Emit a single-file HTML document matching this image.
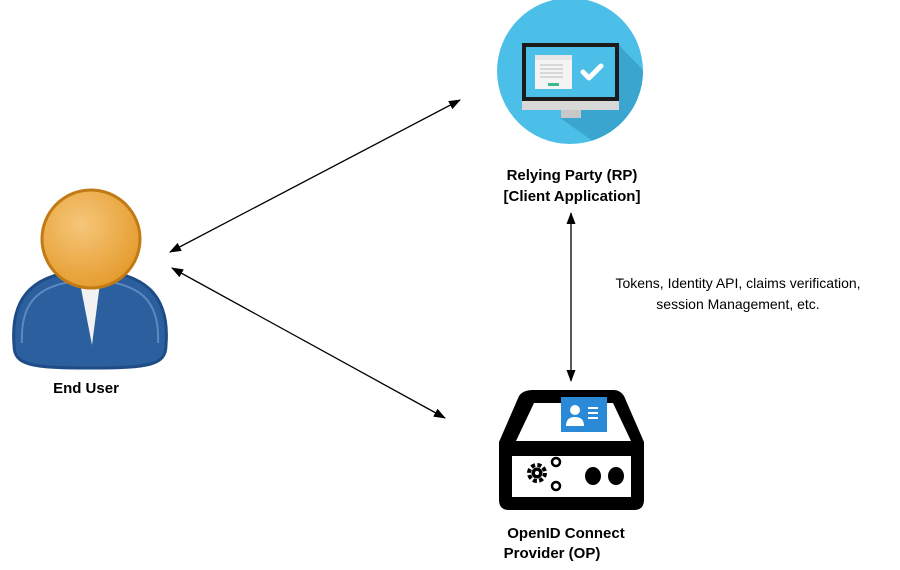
<!DOCTYPE html>
<html><head><style>
body{margin:0;background:#fff;}
svg{display:block;font-family:"Liberation Sans",Arial,sans-serif;}
</style></head><body>
<svg width="900" height="570" viewBox="0 0 900 570">
<defs>
<marker id="ah" markerWidth="12" markerHeight="12" refX="11" refY="6" orient="auto-start-reverse" markerUnits="userSpaceOnUse">
<path d="M0,1.5 L12,6 L0,10.5 Z" fill="#000"/></marker>
<radialGradient id="hg" cx="0.4" cy="0.35" r="0.7"><stop offset="0" stop-color="#f6c67a"/><stop offset="1" stop-color="#e49a2a"/></radialGradient>
<clipPath id="cc"><circle cx="570" cy="71" r="73"/></clipPath>
</defs>
<!-- RP icon -->
<circle cx="570" cy="71" r="73" fill="#4bbfe8"/>
<polygon points="619,45 700,130 620,160 560,118" fill="#3aa6cf" clip-path="url(#cc)"/>
<rect x="522" y="43" width="97" height="58" fill="#1b1b1b"/>
<rect x="526" y="47" width="89" height="50" fill="#4bbfe8"/>
<rect x="522" y="101" width="97" height="9" fill="#d8d8d8"/>
<rect x="561" y="110" width="20" height="8" fill="#c8c8c8"/>
<rect x="535" y="55" width="37" height="34" fill="#f4f4f4"/>
<rect x="535" y="55" width="37" height="5" fill="#e6e6e6"/>
<g stroke="#bbb" stroke-width="1"><line x1="540" y1="65" x2="563" y2="65"/><line x1="540" y1="69" x2="563" y2="69"/><line x1="540" y1="73" x2="563" y2="73"/><line x1="540" y1="77" x2="563" y2="77"/></g>
<rect x="548" y="83" width="11" height="3" fill="#3cb98a"/>
<path d="M583,72 L589,78 L601,66" stroke="#fff" stroke-width="5" fill="none" stroke-linecap="round" stroke-linejoin="round"/>
<!-- User -->
<path d="M14,345 C10,295 35,272 90,270 C145,272 170,295 166,345 C166,365 150,368 90,368 C30,368 14,365 14,345 Z" fill="#2c5f9e" stroke="#1e4c86" stroke-width="3"/>
<path d="M22,343 C20,300 40,282 90,280 C140,282 160,300 158,343" fill="none" stroke="#5c89c0" stroke-width="2"/>
<polygon points="80,283 100,283 92,345" fill="#f2f2f2"/>
<circle cx="91" cy="239" r="49" fill="url(#hg)" stroke="#c27a14" stroke-width="3"/>
<!-- OP icon -->
<path d="M533,390 L614,390 Q620,390 624,396 L644,442 L644,500 Q644,510 634,510 L509,510 Q499,510 499,500 L499,442 L519,396 Q523,390 533,390 Z" fill="#000"/>
<polygon points="534,403 613,403 631,441 516,441" fill="#fff"/>
<rect x="512" y="456" width="119" height="41" fill="#fff"/>
<rect x="561" y="397" width="46" height="35" fill="#2b8ad8"/>
<circle cx="575" cy="410" r="5" fill="#fff"/>
<path d="M566,426 Q566,417 575,417 Q584,417 584,426 Z" fill="#fff"/>
<g stroke="#fff" stroke-width="2"><line x1="588" y1="408" x2="598" y2="408"/><line x1="588" y1="413" x2="598" y2="413"/><line x1="588" y1="418" x2="598" y2="418"/></g>
<circle cx="537" cy="473" r="8" fill="none" stroke="#000" stroke-width="4" stroke-dasharray="4 2.3"/>
<circle cx="537" cy="473" r="5.5" fill="#000"/>
<circle cx="537" cy="473" r="2" fill="#fff"/>
<circle cx="556" cy="462" r="4" fill="none" stroke="#000" stroke-width="2.5"/>
<circle cx="556" cy="486" r="4" fill="none" stroke="#000" stroke-width="2.5"/>
<ellipse cx="593" cy="476" rx="8" ry="9" fill="#000"/>
<ellipse cx="616" cy="476" rx="8" ry="9" fill="#000"/>
<!-- arrows -->
<g stroke="#000" stroke-width="1.3" fill="none">
<line x1="170" y1="252" x2="460" y2="100" marker-start="url(#ah)" marker-end="url(#ah)"/>
<line x1="172" y1="268" x2="445" y2="418" marker-start="url(#ah)" marker-end="url(#ah)"/>
<line x1="571" y1="213" x2="571" y2="381" marker-start="url(#ah)" marker-end="url(#ah)"/>
</g>
<!-- labels -->
<g font-weight="bold" font-size="15" text-anchor="middle" fill="#000">
<text x="572" y="180">Relying Party (RP)</text>
<text x="572" y="201">[Client Application]</text>
<text x="86" y="393">End User</text>
<text x="566" y="538">OpenID Connect</text>
<text x="552" y="558">Provider (OP)</text>
</g>
<g font-size="14" text-anchor="middle" fill="#000">
<text x="738" y="288">Tokens, Identity API, claims verification,</text>
<text x="738" y="309">session Management, etc.</text>
</g>
</svg>
</body></html>
